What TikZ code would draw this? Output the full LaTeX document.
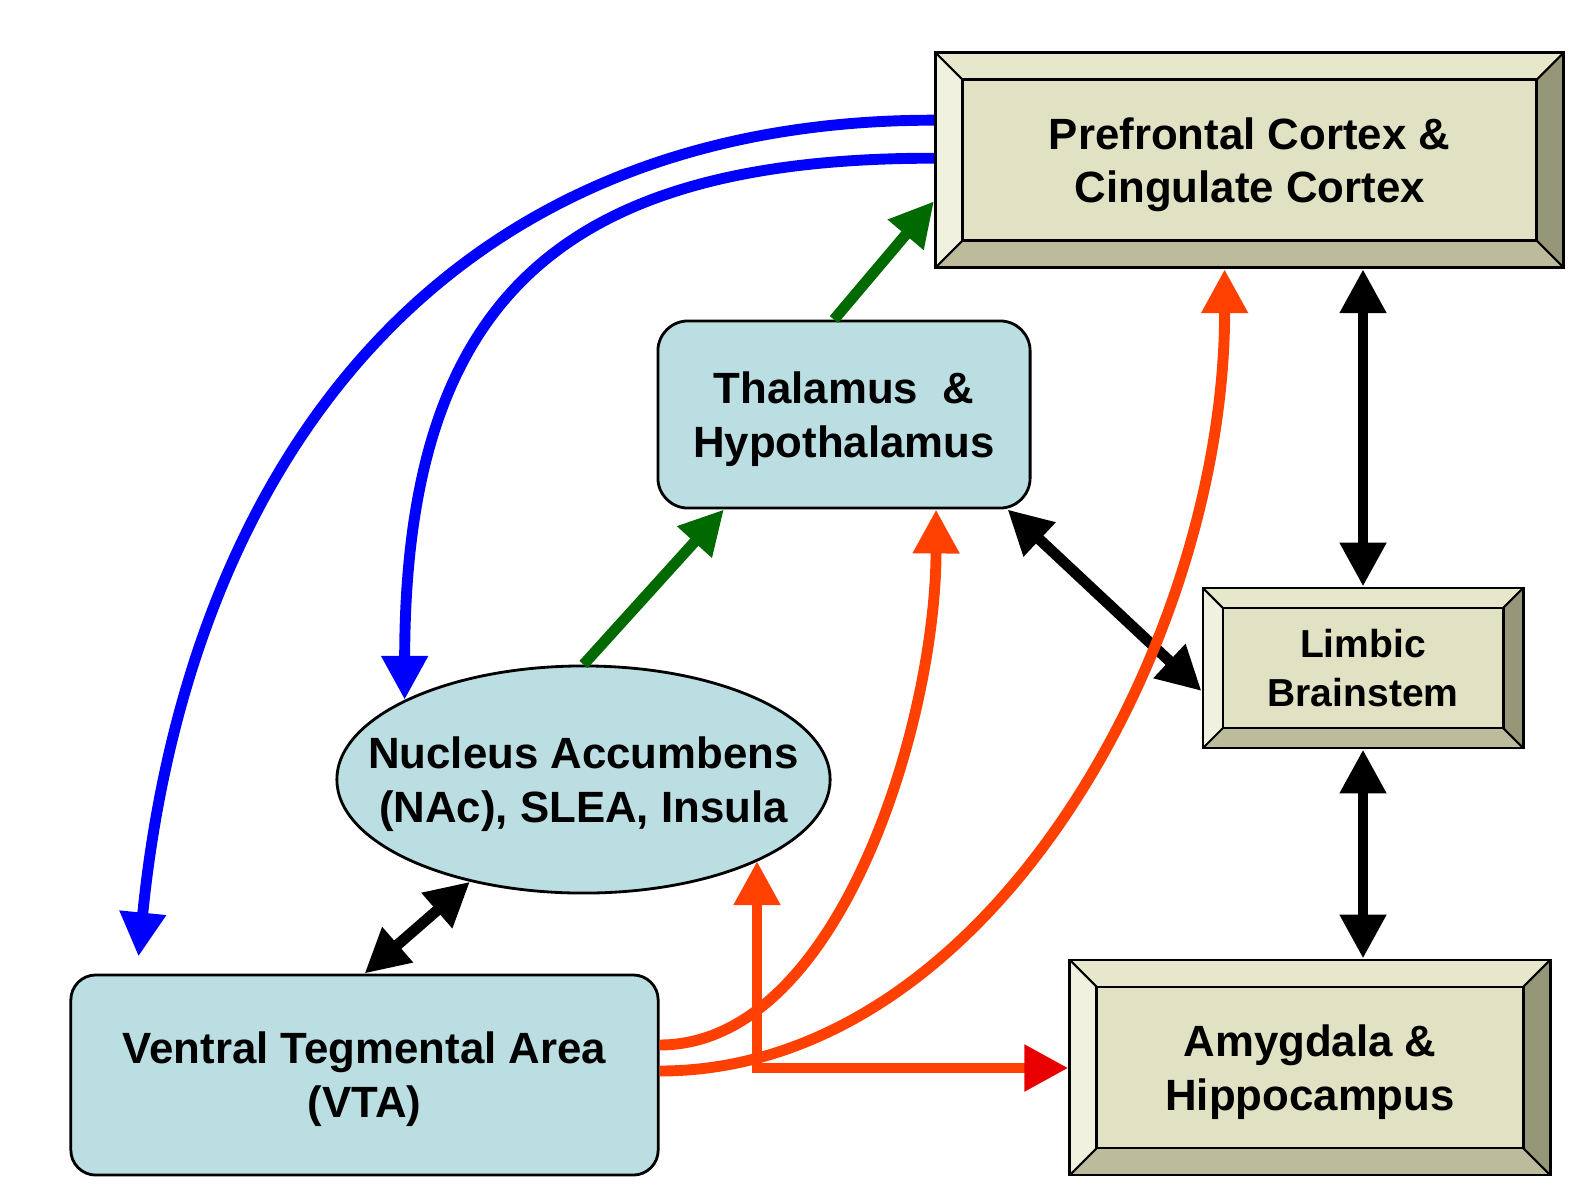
\documentclass[tikz,border=0pt]{standalone}
\usepackage{fontspec}
\setmainfont{Liberation Sans}
\usetikzlibrary{arrows.meta,shapes.geometric,calc}

\definecolor{nodeblue}{RGB}{186,222,226}
\definecolor{bvface}{RGB}{225,225,195}
\definecolor{bvtop}{RGB}{231,231,204}
\definecolor{bvleft}{RGB}{241,241,224}
\definecolor{bvright}{RGB}{150,150,120}
\definecolor{bvbottom}{RGB}{188,188,156}
\definecolor{pathblue}{RGB}{0,0,255}
\definecolor{pathgreen}{RGB}{0,105,0}
\definecolor{pathred}{RGB}{255,64,0}
\definecolor{tipred}{RGB}{232,0,0}

\tikzset{every picture/.style={line width=0.8pt}}
\tikzset{
  bigtri/.tip={Triangle[length=4.4mm,width=4.4mm]},
  bigfont/.style={font=\bfseries\fontsize{12.45}{15.3}\selectfont, text depth=0pt},
  region/.style={draw=black, fill=nodeblue, align=center, inner sep=0pt, bigfont},
  bevel/.style={rectangle, draw=black, fill=bvface, align=center, inner sep=0pt, bigfont,
    path picture={
      \path (path picture bounding box.north west) coordinate (bnw)
            (path picture bounding box.north east) coordinate (bne)
            (path picture bounding box.south west) coordinate (bsw)
            (path picture bounding box.south east) coordinate (bse);
      \fill[bvtop] (bnw) -- (bne) -- ([shift={(-#1,-#1)}]bne) -- ([shift={(#1,-#1)}]bnw) -- cycle;
      \fill[bvleft] (bnw) -- (bsw) -- ([shift={(#1,#1)}]bsw) -- ([shift={(#1,-#1)}]bnw) -- cycle;
      \fill[bvright] (bne) -- (bse) -- ([shift={(-#1,#1)}]bse) -- ([shift={(-#1,-#1)}]bne) -- cycle;
      \fill[bvbottom] (bsw) -- (bse) -- ([shift={(-#1,#1)}]bse) -- ([shift={(#1,#1)}]bsw) -- cycle;
      \draw[line width=0.8pt] ([shift={(#1,-#1)}]bnw) rectangle ([shift={(-#1,#1)}]bse);
      \draw[line width=0.6pt] (bnw) -- ++(#1,-#1) (bne) -- ++(-#1,-#1)
                              (bsw) -- ++(#1,#1) (bse) -- ++(-#1,#1);
    }},
  bevel/.default=2.7mm,
  way/.style={line width=3.1pt, -bigtri},
  blueway/.style={way, pathblue},
  greenway/.style={way, pathgreen},
  redway/.style={way, pathred},
  blackway/.style={line width=3.1pt, bigtri-bigtri, black},
}

\begin{document}
\begin{tikzpicture}[x=0.01cm, y=-0.01cm]
  \useasboundingbox (0,0) rectangle (1595,1200);

  \node[bevel, minimum width=6.28cm, minimum height=2.15cm] (pfc) at (1249.6,160.2)
    {Prefrontal Cortex \&\\Cingulate Cortex};
  \node[bevel=2mm, minimum width=3.2cm, minimum height=1.6cm,
        font=\bfseries\fontsize{11.1}{13.9}\selectfont] (limbic) at (1363,668)
    {Limbic\\Brainstem};
  \node[bevel, minimum width=4.8cm, minimum height=2.15cm] (amyg) at (1310,1067.5)
    {Amygdala \&\\Hippocampus};
  \node[region, rounded corners=3mm, minimum width=3.72cm, minimum height=1.87cm] (thal) at (844,414.5)
    {Thalamus~~\&\\Hypothalamus};
  \node[region, ellipse, inner sep=-6mm, minimum width=4.93cm, minimum height=2.27cm] (nac) at (583.5,779.5)
    {Nucleus Accumbens\\(NAc), SLEA, Insula};
  \node[region, rounded corners=2.5mm, minimum width=5.87cm, minimum height=2cm] (vta) at (364.5,1075)
    {Ventral Tegmental Area\\(VTA)};

  \draw[blueway] ([yshift=4mm]pfc.west) .. controls (420,120) and (185,490) .. ([xshift=6.9mm,yshift=1.7mm]vta.north west);
  \draw[blueway] ([yshift=0.2mm]pfc.west) .. controls (560,158) and (405,300) .. (nac.156);

  \draw[greenway] (nac.north) -- ([xshift=-12mm]thal.south);
  \draw[greenway] ([xshift=-1mm]thal.north) -- ([yshift=-4.1mm]pfc.west);

  \draw[blackway] (nac.222) -- (vta.north);
  \draw[blackway] ([xshift=-2.4mm]thal.south east) -- ([yshift=-2.3mm]limbic.west);
  \draw[blackway] (limbic.north) -- (limbic.north |- pfc.south);
  \draw[blackway] (limbic.south) -- (limbic.south |- amyg.north);

  \draw[redway] ([yshift=3mm]vta.east) .. controls (840,1045) and (936,720) .. ([xshift=9.2mm]thal.south);
  \draw[redway] ([yshift=0.4mm]vta.east) .. controls (990,1071) and (1225,640) .. ([xshift=-2.5mm]pfc.south);
  \coordinate (fork) at (757,1068);
  \draw[redway, bigtri-{Triangle[length=4.4mm,width=4.4mm,color=tipred]}]
    (fork |- nac.-25) -- (fork) -- (fork -| amyg.west);
\end{tikzpicture}
\end{document}
